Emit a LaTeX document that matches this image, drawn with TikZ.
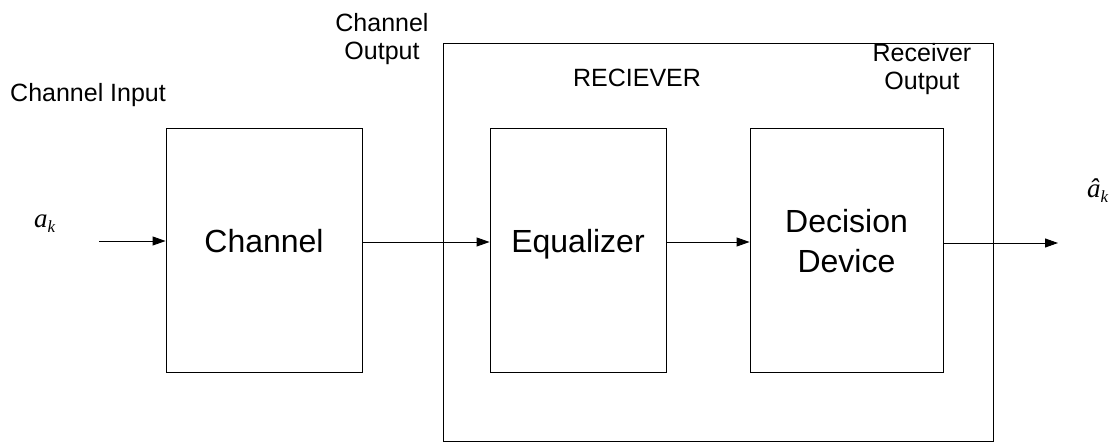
\documentclass[tikz,border=0pt]{standalone}
\usepackage{fontspec}
\setmainfont{Liberation Sans}
\newfontfamily\symbfont{Liberation Serif}
\usetikzlibrary{arrows.meta}
\tikzset{
  block/.style={draw=black, line width=0.9pt},
  flow/.style={draw=black, line width=0.9pt, -{Triangle[length=13pt,width=9pt]}},
  small/.style={font=\fontsize{25}{28}\selectfont, align=center, inner sep=0pt, anchor=base},
  big/.style={font=\fontsize{32}{40}\selectfont, align=center, inner sep=0pt},
  sym/.style={font=\symbfont\itshape\fontsize{27}{28}\selectfont, inner sep=0pt, anchor=base west},
}
\newcommand{\subk}{\raisebox{-5pt}{\fontsize{17}{17}\selectfont k}}
\begin{document}
\begin{tikzpicture}[x=1pt, y=-1pt]
  \useasboundingbox (0,0) rectangle (1119,443);
  % receiver enclosure
  \draw[block] (443,43) rectangle (993,441);
  % processing blocks
  \node[block, minimum width=196pt, minimum height=244pt, inner sep=0pt] (chan) at (264,250) {};
  \node[block, minimum width=176pt, minimum height=244pt, inner sep=0pt] (eq) at (578,250) {};
  \node[block, minimum width=193pt, minimum height=244pt, inner sep=0pt] (dec) at (846.5,250) {};
  % block captions (base = baseline of the last line)
  \node[big, anchor=base] at (264,253) {Channel};
  \node[big, anchor=base] at (578,253) {Equalizer};
  \node[big, anchor=base] at (846.5,273) {Decision\\Device};
  % labels
  \node[small, anchor=base west] at (10,102) {Channel Input};
  \node[small] at (382,60) {Channel\\Output};
  \node[small] at (637,87) {RECIEVER};
  \node[small] at (922,90) {Receiver\\Output};
  \node[sym] at (34,228) {a\subk};
  \node[sym] at (1087,198) {\^a\subk};
  % signal path
  \coordinate (in) at (99,241);
  \coordinate (out) at (1058,243);
  \draw[flow] (in) -- (chan.west |- in);
  \draw[flow] (chan.east |- 0,242) -- (eq.west |- 0,242);
  \draw[flow] (eq.east |- 0,242) -- (dec.west |- 0,242);
  \draw[flow] (dec.east |- out) -- (out);
\end{tikzpicture}
\end{document}
